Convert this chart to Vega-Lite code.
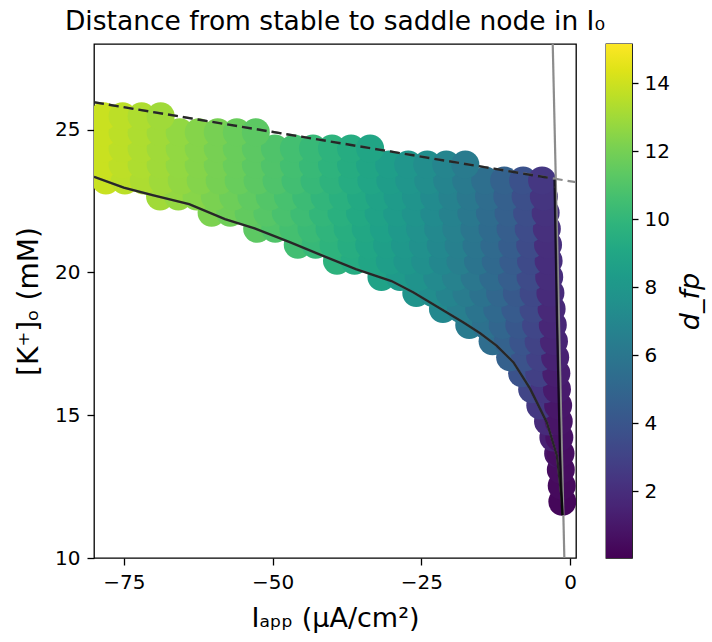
{
  "$schema": "https://vega.github.io/schema/vega-lite/v6.json",
  "background": "white",
  "padding": {"left": 14, "top": 7, "right": 2, "bottom": 5},
  "config": {
    "font": "DejaVu Sans",
    "view": {"stroke": "black", "strokeWidth": 1.3},
    "axis": {"grid": false, "domain": false, "tickColor": "black", "tickWidth": 1.3, "tickSize": 7, "labelFontSize": 20, "labelColor": "black", "titleFontSize": 27, "titleColor": "black", "titleFontWeight": "normal", "labelPadding": 7}
  },
  "datasets": {
    "points": [
      {"K": 11.97, "I": -1.3, "d": 0.28},
      {"K": 12.53, "I": -1.4, "d": 0.36},
      {"K": 13.09, "I": -1.55, "d": 0.49},
      {"K": 13.66, "I": -2.0, "d": 0.85}, {"K": 13.66, "I": -1.6, "d": 0.53},
      {"K": 14.22, "I": -2.8, "d": 1.36}, {"K": 14.22, "I": -1.8, "d": 0.72},
      {"K": 14.78, "I": -3.7, "d": 1.86}, {"K": 14.78, "I": -1.9, "d": 0.81},
      {"K": 15.34, "I": -5.0, "d": 2.48}, {"K": 15.34, "I": -2.0, "d": 0.91},
      {"K": 15.91, "I": -6.37, "d": 3.11}, {"K": 15.91, "I": -4.29, "d": 2.34}, {"K": 15.91, "I": -2.2, "d": 1.10},
      {"K": 16.47, "I": -8.06, "d": 3.83}, {"K": 16.47, "I": -5.18, "d": 2.84}, {"K": 16.47, "I": -2.3, "d": 1.21},
      {"K": 17.03, "I": -10.07, "d": 4.62}, {"K": 17.03, "I": -7.55, "d": 3.86}, {"K": 17.03, "I": -5.02, "d": 2.91}, {"K": 17.03, "I": -2.5, "d": 1.41},
      {"K": 17.59, "I": -13.02, "d": 5.36}, {"K": 17.59, "I": -10.44, "d": 4.71}, {"K": 17.59, "I": -7.86, "d": 3.94}, {"K": 17.59, "I": -5.28, "d": 2.99}, {"K": 17.59, "I": -2.7, "d": 1.53},
      {"K": 18.16, "I": -16.94, "d": 6.22}, {"K": 18.16, "I": -14.13, "d": 5.61}, {"K": 18.16, "I": -11.32, "d": 4.93}, {"K": 18.16, "I": -8.52, "d": 4.13}, {"K": 18.16, "I": -5.71, "d": 3.15}, {"K": 18.16, "I": -2.9, "d": 1.64},
      {"K": 18.72, "I": -21.36, "d": 7.06}, {"K": 18.72, "I": -18.32, "d": 6.48}, {"K": 18.72, "I": -15.27, "d": 5.85}, {"K": 18.72, "I": -12.23, "d": 5.14}, {"K": 18.72, "I": -9.19, "d": 4.32}, {"K": 18.72, "I": -6.14, "d": 3.29}, {"K": 18.72, "I": -3.1, "d": 1.75},
      {"K": 19.28, "I": -25.84, "d": 7.82}, {"K": 19.28, "I": -23.02, "d": 7.34}, {"K": 19.28, "I": -20.21, "d": 6.83}, {"K": 19.28, "I": -17.39, "d": 6.28}, {"K": 19.28, "I": -14.57, "d": 5.68}, {"K": 19.28, "I": -11.75, "d": 5.00}, {"K": 19.28, "I": -8.94, "d": 4.23}, {"K": 19.28, "I": -6.12, "d": 3.26}, {"K": 19.28, "I": -3.3, "d": 1.85},
      {"K": 19.84, "I": -31.7, "d": 8.72}, {"K": 19.84, "I": -28.57, "d": 8.24}, {"K": 19.84, "I": -25.43, "d": 7.74}, {"K": 19.84, "I": -22.3, "d": 7.20}, {"K": 19.84, "I": -19.17, "d": 6.62}, {"K": 19.84, "I": -16.03, "d": 5.99}, {"K": 19.84, "I": -12.9, "d": 5.28}, {"K": 19.84, "I": -9.77, "d": 4.45}, {"K": 19.84, "I": -6.63, "d": 3.43}, {"K": 19.84, "I": -3.5, "d": 1.94},
      {"K": 20.41, "I": -39.17, "d": 9.74}, {"K": 20.41, "I": -36.21, "d": 9.35}, {"K": 20.41, "I": -33.24, "d": 8.93}, {"K": 20.41, "I": -30.28, "d": 8.50}, {"K": 20.41, "I": -27.31, "d": 8.04}, {"K": 20.41, "I": -24.35, "d": 7.55}, {"K": 20.41, "I": -21.38, "d": 7.03}, {"K": 20.41, "I": -18.42, "d": 6.47}, {"K": 20.41, "I": -15.46, "d": 5.85}, {"K": 20.41, "I": -12.49, "d": 5.16}, {"K": 20.41, "I": -9.53, "d": 4.37}, {"K": 20.41, "I": -6.56, "d": 3.38}, {"K": 20.41, "I": -3.6, "d": 1.97},
      {"K": 20.97, "I": -45.76, "d": 10.57}, {"K": 20.97, "I": -42.75, "d": 10.19}, {"K": 20.97, "I": -39.75, "d": 9.81}, {"K": 20.97, "I": -36.74, "d": 9.41}, {"K": 20.97, "I": -33.74, "d": 8.99}, {"K": 20.97, "I": -30.74, "d": 8.56}, {"K": 20.97, "I": -27.73, "d": 8.09}, {"K": 20.97, "I": -24.73, "d": 7.60}, {"K": 20.97, "I": -21.72, "d": 7.08}, {"K": 20.97, "I": -18.72, "d": 6.51}, {"K": 20.97, "I": -15.72, "d": 5.89}, {"K": 20.97, "I": -12.71, "d": 5.20}, {"K": 20.97, "I": -9.71, "d": 4.40}, {"K": 20.97, "I": -6.7, "d": 3.41}, {"K": 20.97, "I": -3.7, "d": 1.99},
      {"K": 21.53, "I": -52.58, "d": 11.36}, {"K": 21.53, "I": -49.54, "d": 11.01}, {"K": 21.53, "I": -46.5, "d": 10.65}, {"K": 21.53, "I": -43.45, "d": 10.28}, {"K": 21.53, "I": -40.41, "d": 9.89}, {"K": 21.53, "I": -37.37, "d": 9.49}, {"K": 21.53, "I": -34.33, "d": 9.07}, {"K": 21.53, "I": -31.28, "d": 8.63}, {"K": 21.53, "I": -28.24, "d": 8.16}, {"K": 21.53, "I": -25.2, "d": 7.67}, {"K": 21.53, "I": -22.16, "d": 7.15}, {"K": 21.53, "I": -19.11, "d": 6.58}, {"K": 21.53, "I": -16.07, "d": 5.96}, {"K": 21.53, "I": -13.03, "d": 5.26}, {"K": 21.53, "I": -9.99, "d": 4.46}, {"K": 21.53, "I": -6.94, "d": 3.48}, {"K": 21.53, "I": -3.9, "d": 2.08},
      {"K": 22.09, "I": -60.24, "d": 12.18}, {"K": 22.09, "I": -57.12, "d": 11.85}, {"K": 22.09, "I": -54.0, "d": 11.51}, {"K": 22.09, "I": -50.88, "d": 11.16}, {"K": 22.09, "I": -47.77, "d": 10.79}, {"K": 22.09, "I": -44.65, "d": 10.42}, {"K": 22.09, "I": -41.53, "d": 10.03}, {"K": 22.09, "I": -38.41, "d": 9.62}, {"K": 22.09, "I": -35.29, "d": 9.19}, {"K": 22.09, "I": -32.17, "d": 8.75}, {"K": 22.09, "I": -29.05, "d": 8.28}, {"K": 22.09, "I": -25.93, "d": 7.78}, {"K": 22.09, "I": -22.81, "d": 7.25}, {"K": 22.09, "I": -19.7, "d": 6.68}, {"K": 22.09, "I": -16.58, "d": 6.05}, {"K": 22.09, "I": -13.46, "d": 5.35}, {"K": 22.09, "I": -10.34, "d": 4.55}, {"K": 22.09, "I": -7.22, "d": 3.56}, {"K": 22.09, "I": -4.1, "d": 2.17},
      {"K": 22.66, "I": -68.9, "d": 13.05}, {"K": 22.66, "I": -65.83, "d": 12.75}, {"K": 22.66, "I": -62.76, "d": 12.44}, {"K": 22.66, "I": -59.69, "d": 12.12}, {"K": 22.66, "I": -56.61, "d": 11.79}, {"K": 22.66, "I": -53.54, "d": 11.45}, {"K": 22.66, "I": -50.47, "d": 11.10}, {"K": 22.66, "I": -47.4, "d": 10.74}, {"K": 22.66, "I": -44.33, "d": 10.37}, {"K": 22.66, "I": -41.26, "d": 9.98}, {"K": 22.66, "I": -38.19, "d": 9.58}, {"K": 22.66, "I": -35.11, "d": 9.16}, {"K": 22.66, "I": -32.04, "d": 8.72}, {"K": 22.66, "I": -28.97, "d": 8.26}, {"K": 22.66, "I": -25.9, "d": 7.77}, {"K": 22.66, "I": -22.83, "d": 7.24}, {"K": 22.66, "I": -19.76, "d": 6.68}, {"K": 22.66, "I": -16.69, "d": 6.06}, {"K": 22.66, "I": -13.61, "d": 5.37}, {"K": 22.66, "I": -10.54, "d": 4.58}, {"K": 22.66, "I": -7.47, "d": 3.63}, {"K": 22.66, "I": -4.4, "d": 2.30},
      {"K": 23.22, "I": -78.0, "d": 13.91}, {"K": 23.22, "I": -74.81, "d": 13.62}, {"K": 23.22, "I": -71.63, "d": 13.31}, {"K": 23.22, "I": -68.44, "d": 13.00}, {"K": 23.22, "I": -65.25, "d": 12.69}, {"K": 23.22, "I": -62.07, "d": 12.36}, {"K": 23.22, "I": -58.88, "d": 12.03}, {"K": 23.22, "I": -55.69, "d": 11.68}, {"K": 23.22, "I": -52.51, "d": 11.33}, {"K": 23.22, "I": -49.32, "d": 10.96}, {"K": 23.22, "I": -46.13, "d": 10.58}, {"K": 23.22, "I": -42.94, "d": 10.19}, {"K": 23.22, "I": -39.76, "d": 9.78}, {"K": 23.22, "I": -36.57, "d": 9.35}, {"K": 23.22, "I": -33.38, "d": 8.91}, {"K": 23.22, "I": -30.2, "d": 8.44}, {"K": 23.22, "I": -27.01, "d": 7.94}, {"K": 23.22, "I": -23.82, "d": 7.41}, {"K": 23.22, "I": -20.64, "d": 6.83}, {"K": 23.22, "I": -17.45, "d": 6.21}, {"K": 23.22, "I": -14.26, "d": 5.51}, {"K": 23.22, "I": -11.07, "d": 4.71}, {"K": 23.22, "I": -7.89, "d": 3.75}, {"K": 23.22, "I": -4.7, "d": 2.43},
      {"K": 23.78, "I": -78.4, "d": 13.94}, {"K": 23.78, "I": -75.2, "d": 13.65}, {"K": 23.78, "I": -72.0, "d": 13.34}, {"K": 23.78, "I": -68.8, "d": 13.03}, {"K": 23.78, "I": -65.6, "d": 12.71}, {"K": 23.78, "I": -62.4, "d": 12.39}, {"K": 23.78, "I": -59.2, "d": 12.05}, {"K": 23.78, "I": -56.0, "d": 11.71}, {"K": 23.78, "I": -52.8, "d": 11.35}, {"K": 23.78, "I": -49.6, "d": 10.99}, {"K": 23.78, "I": -46.4, "d": 10.61}, {"K": 23.78, "I": -43.2, "d": 10.21}, {"K": 23.78, "I": -40.0, "d": 9.80}, {"K": 23.78, "I": -36.8, "d": 9.38}, {"K": 23.78, "I": -33.6, "d": 8.93}, {"K": 23.78, "I": -30.4, "d": 8.46}, {"K": 23.78, "I": -27.2, "d": 7.96}, {"K": 23.78, "I": -24.0, "d": 7.43}, {"K": 23.78, "I": -20.8, "d": 6.85}, {"K": 23.78, "I": -17.6, "d": 6.23},
      {"K": 24.34, "I": -78.4, "d": 13.94}, {"K": 24.34, "I": -75.2, "d": 13.64}, {"K": 24.34, "I": -72.0, "d": 13.34}, {"K": 24.34, "I": -68.8, "d": 13.03}, {"K": 24.34, "I": -65.6, "d": 12.71}, {"K": 24.34, "I": -62.4, "d": 12.38}, {"K": 24.34, "I": -59.2, "d": 12.05}, {"K": 24.34, "I": -56.0, "d": 11.70}, {"K": 24.34, "I": -52.8, "d": 11.35}, {"K": 24.34, "I": -49.6, "d": 10.98}, {"K": 24.34, "I": -46.4, "d": 10.60}, {"K": 24.34, "I": -43.2, "d": 10.21}, {"K": 24.34, "I": -40.0, "d": 9.80}, {"K": 24.34, "I": -36.8, "d": 9.37}, {"K": 24.34, "I": -33.6, "d": 8.92},
      {"K": 24.91, "I": -78.4, "d": 13.93}, {"K": 24.91, "I": -75.2, "d": 13.64}, {"K": 24.91, "I": -72.0, "d": 13.33}, {"K": 24.91, "I": -68.8, "d": 13.02}, {"K": 24.91, "I": -65.6, "d": 12.70}, {"K": 24.91, "I": -62.4, "d": 12.38}, {"K": 24.91, "I": -59.2, "d": 12.04}, {"K": 24.91, "I": -56.0, "d": 11.69}, {"K": 24.91, "I": -52.8, "d": 11.34},
      {"K": 25.47, "I": -78.4, "d": 13.93}, {"K": 25.47, "I": -75.2, "d": 13.63}, {"K": 25.47, "I": -72.0, "d": 13.33}, {"K": 25.47, "I": -68.8, "d": 13.01}
    ],
    "lines": [
      {"s": "sn_gray", "I": -2.91, "K": 28.0, "o": 0}, {"s": "sn_gray", "I": -0.96, "K": 10.0, "o": 1},
      {"s": "lower_gray", "I": -80, "K": 23.35, "o": 0}, {"s": "lower_gray", "I": -75, "K": 22.97, "o": 1}, {"s": "lower_gray", "I": -70, "K": 22.70, "o": 2}, {"s": "lower_gray", "I": -64, "K": 22.39, "o": 3}, {"s": "lower_gray", "I": -58, "K": 21.87, "o": 4}, {"s": "lower_gray", "I": -53, "K": 21.54, "o": 5}, {"s": "lower_gray", "I": -47, "K": 21.05, "o": 6}, {"s": "lower_gray", "I": -41.5, "K": 20.58, "o": 7}, {"s": "lower_gray", "I": -36, "K": 20.12, "o": 8}, {"s": "lower_gray", "I": -30, "K": 19.70, "o": 9}, {"s": "lower_gray", "I": -26.3, "K": 19.30, "o": 10}, {"s": "lower_gray", "I": -23.5, "K": 18.95, "o": 11}, {"s": "lower_gray", "I": -20.7, "K": 18.60, "o": 12}, {"s": "lower_gray", "I": -17.9, "K": 18.25, "o": 13}, {"s": "lower_gray", "I": -15.1, "K": 17.87, "o": 14}, {"s": "lower_gray", "I": -12.3, "K": 17.43, "o": 15}, {"s": "lower_gray", "I": -9.5, "K": 16.85, "o": 16}, {"s": "lower_gray", "I": -6.7, "K": 15.92, "o": 17}, {"s": "lower_gray", "I": -3.9, "K": 14.75, "o": 18}, {"s": "lower_gray", "I": -2.2, "K": 13.58, "o": 19}, {"s": "lower_gray", "I": -1.4, "K": 12.07, "o": 20}, {"s": "lower_gray", "I": -1.25, "K": 11.5, "o": 21},
      {"s": "lower_dark", "I": -80, "K": 23.35, "o": 0}, {"s": "lower_dark", "I": -75, "K": 22.97, "o": 1}, {"s": "lower_dark", "I": -70, "K": 22.70, "o": 2}, {"s": "lower_dark", "I": -64, "K": 22.39, "o": 3}, {"s": "lower_dark", "I": -58, "K": 21.87, "o": 4}, {"s": "lower_dark", "I": -53, "K": 21.54, "o": 5}, {"s": "lower_dark", "I": -47, "K": 21.05, "o": 6}, {"s": "lower_dark", "I": -41.5, "K": 20.58, "o": 7}, {"s": "lower_dark", "I": -36, "K": 20.12, "o": 8}, {"s": "lower_dark", "I": -30, "K": 19.70, "o": 9}, {"s": "lower_dark", "I": -26.3, "K": 19.30, "o": 10}, {"s": "lower_dark", "I": -23.5, "K": 18.95, "o": 11}, {"s": "lower_dark", "I": -20.7, "K": 18.60, "o": 12}, {"s": "lower_dark", "I": -17.9, "K": 18.25, "o": 13}, {"s": "lower_dark", "I": -15.1, "K": 17.87, "o": 14}, {"s": "lower_dark", "I": -12.3, "K": 17.43, "o": 15}, {"s": "lower_dark", "I": -9.5, "K": 16.85, "o": 16}, {"s": "lower_dark", "I": -6.7, "K": 15.92, "o": 17}, {"s": "lower_dark", "I": -3.9, "K": 14.75, "o": 18}, {"s": "lower_dark", "I": -2.2, "K": 13.58, "o": 19}, {"s": "lower_dark", "I": -1.4, "K": 12.07, "o": 20}, {"s": "lower_dark", "I": -1.25, "K": 11.5, "o": 21},
      {"s": "sn_dark", "I": -2.6, "K": 23.25, "o": 0}, {"s": "sn_dark", "I": -2.2, "K": 18.5, "o": 1}, {"s": "sn_dark", "I": -1.7, "K": 13.8, "o": 2}, {"s": "sn_dark", "I": -1.3, "K": 11.5, "o": 3},
      {"s": "upper_gray", "I": -80, "K": 25.96, "o": 0}, {"s": "upper_gray", "I": 1, "K": 23.16, "o": 1},
      {"s": "upper_dark", "I": -80, "K": 25.96, "o": 0}, {"s": "upper_dark", "I": -2.9, "K": 23.29, "o": 1}
    ],
    "cbar": [{"lo": 0.03, "hi": 15.15}]
  },
  "hconcat": [
    {
      "width": 482,
      "height": 514,
      "title": {"text": "Distance from stable to saddle node in I₀", "fontSize": 26.5, "fontWeight": "normal", "anchor": "middle", "frame": "group", "offset": 9, "color": "black"},
      "layer": [
        {
          "data": {"name": "points"},
          "mark": {"type": "circle", "size": 784, "opacity": 1, "clip": true},
          "encoding": {
            "x": {"field": "I", "type": "quantitative", "title": "Iₐₚₚ (μA/cm²)", "scale": {"domain": [-80, 1], "nice": false, "zero": false}, "axis": {"values": [-75, -50, -25, 0], "titlePadding": 13}},
            "y": {"field": "K", "type": "quantitative", "title": "[K⁺]ₒ (mM)", "scale": {"domain": [10, 28], "nice": false, "zero": false}, "axis": {"values": [10, 15, 20, 25], "titlePadding": 11, "titleFontSize": 28}},
            "color": {"field": "d", "type": "quantitative", "scale": {"scheme": "viridis", "domain": [0.03, 15.15]}, "legend": null}
          }
        },
        {
          "data": {"name": "lines"},
          "transform": [{"filter": "datum.s == 'sn_gray' || datum.s == 'lower_gray'"}],
          "mark": {"type": "line", "color": "#8c8c8c", "strokeWidth": 2.2, "clip": true},
          "encoding": {
            "x": {"field": "I", "type": "quantitative", "title": "Iₐₚₚ (μA/cm²)"},
            "y": {"field": "K", "type": "quantitative", "title": "[K⁺]ₒ (mM)"},
            "detail": {"field": "s"},
            "order": {"field": "o"}
          }
        },
        {
          "data": {"name": "lines"},
          "transform": [{"filter": "datum.s == 'upper_gray'"}],
          "mark": {"type": "line", "color": "#8c8c8c", "strokeWidth": 2.2, "strokeDash": [10, 5], "clip": true},
          "encoding": {
            "x": {"field": "I", "type": "quantitative", "title": "Iₐₚₚ (μA/cm²)"},
            "y": {"field": "K", "type": "quantitative", "title": "[K⁺]ₒ (mM)"},
            "order": {"field": "o"}
          }
        },
        {
          "data": {"name": "lines"},
          "transform": [{"filter": "datum.s == 'sn_dark' || datum.s == 'lower_dark'"}],
          "mark": {"type": "line", "color": "black", "opacity": 0.72, "strokeWidth": 2.4, "clip": true},
          "encoding": {
            "x": {"field": "I", "type": "quantitative", "title": "Iₐₚₚ (μA/cm²)"},
            "y": {"field": "K", "type": "quantitative", "title": "[K⁺]ₒ (mM)"},
            "detail": {"field": "s"},
            "order": {"field": "o"}
          }
        },
        {
          "data": {"name": "lines"},
          "transform": [{"filter": "datum.s == 'upper_dark'"}],
          "mark": {"type": "line", "color": "black", "opacity": 0.72, "strokeWidth": 2.4, "strokeDash": [10, 5], "clip": true},
          "encoding": {
            "x": {"field": "I", "type": "quantitative", "title": "Iₐₚₚ (μA/cm²)"},
            "y": {"field": "K", "type": "quantitative", "title": "[K⁺]ₒ (mM)"},
            "order": {"field": "o"}
          }
        }
      ]
    },
    {
      "width": 26,
      "height": 514,
      "data": {"name": "cbar"},
      "mark": {"type": "rect", "color": {"gradient": "linear", "x1": 0, "y1": 1, "x2": 0, "y2": 0, "stops": [
        {"offset": 0.0, "color": "#440154"}, {"offset": 0.05, "color": "#471365"}, {"offset": 0.1, "color": "#482475"}, {"offset": 0.15, "color": "#463480"}, {"offset": 0.2, "color": "#414487"}, {"offset": 0.25, "color": "#3b528b"}, {"offset": 0.3, "color": "#355f8d"}, {"offset": 0.35, "color": "#2f6c8e"}, {"offset": 0.4, "color": "#2a788e"}, {"offset": 0.45, "color": "#25848e"}, {"offset": 0.5, "color": "#21918c"}, {"offset": 0.55, "color": "#1e9c89"}, {"offset": 0.6, "color": "#22a884"}, {"offset": 0.65, "color": "#2fb47c"}, {"offset": 0.7, "color": "#44bf70"}, {"offset": 0.75, "color": "#5ec962"}, {"offset": 0.8, "color": "#7ad151"}, {"offset": 0.85, "color": "#9bd93c"}, {"offset": 0.9, "color": "#bddf26"}, {"offset": 0.95, "color": "#dfe318"}, {"offset": 1.0, "color": "#fde725"}
      ]}},
      "encoding": {
        "y": {"field": "lo", "type": "quantitative", "scale": {"domain": [0.03, 15.15], "nice": false, "zero": false}, "axis": {"orient": "right", "values": [2, 4, 6, 8, 10, 12, 14], "title": "d_fp", "titleAngle": 270, "titleBaseline": "top", "titleFontStyle": "italic", "titlePadding": 8, "tickSize": 6, "labelPadding": 6}},
        "y2": {"field": "hi"}
      }
    }
  ],
  "spacing": 30,
  "bounds": "flush"
}
